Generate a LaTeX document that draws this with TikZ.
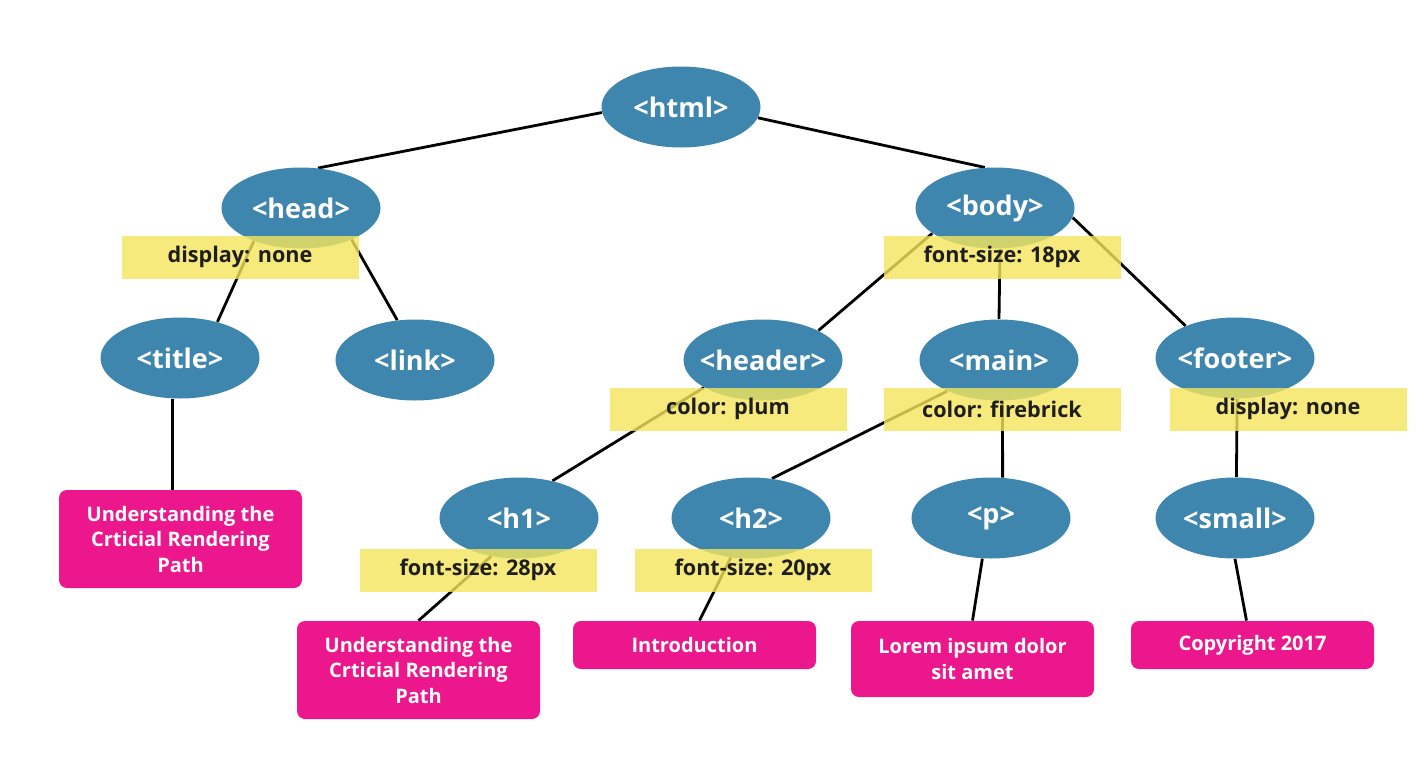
\documentclass[tikz,border=0pt]{standalone}
\usepackage{fontspec}
\setmainfont{Open Sans}
\usetikzlibrary{shapes.geometric}

\pgfdeclarelayer{background}
\pgfsetlayers{background,main}

\definecolor{elemblue}{HTML}{3F86AE}
\definecolor{rulefill}{HTML}{F5E55C}
\definecolor{ruletext}{HTML}{1E1E1E}
\definecolor{textpink}{HTML}{EC178C}

\tikzset{
  elem/.style={ellipse,fill=elemblue,text=white,inner xsep=-8pt,inner ysep=0pt,
    minimum width=79.5pt,minimum height=40.5pt,
    font=\fontsize{13.5}{16}\selectfont\bfseries},
  cssrule/.style={fill=rulefill,fill opacity=0.8,text opacity=1,text=ruletext,
    inner sep=0pt,minimum width=118.5pt,minimum height=21.5pt,
    font=\fontsize{10.8}{13}\selectfont\bfseries},
  textbox/.style={fill=textpink,rounded corners=4pt,text=white,inner sep=0pt,
    minimum width=121.5pt,align=center,
    font=\fontsize{10}{12.75}\selectfont\bfseries},
  branch/.style={line width=1.4pt,black}
}

\begin{document}
\begin{tikzpicture}[x=0.5pt,y=-0.5pt]
  \useasboundingbox (0,0) rectangle (1420,766);

  % element nodes
  \node[elem] (html)   at (681,107) {<html>};
  \node[elem] (head)   at (301,208) {<head>};
  \node[elem] (body)   at (995,208) {<body>};
  \node[elem] (title)  at (180,358) {<title>};
  \node[elem] (link)   at (415,360) {<link>};
  \node[elem] (header) at (763,360) {<header>};
  \node[elem] (main)   at (999,360) {<main>};
  \node[elem] (footer) at (1235,358) {<footer>};
  \node[elem] (h1)     at (519,518) {<h1>};
  \node[elem] (h2)     at (751,518) {<h2>};
  \node[elem] (p)      at (991,518) {<p>};
  \node[elem] (small)  at (1235,518) {<small>};

  % text content
  \node[textbox,minimum height=49pt] (tt1) at (180.5,539) {Understanding the\\Crticial Rendering\\Path};
  \node[textbox,minimum height=49pt] (tt2) at (418.5,670) {Understanding the\\Crticial Rendering\\Path};
  \node[textbox,minimum height=24pt] (tt3) at (694.5,645) {Introduction};
  \node[textbox,minimum height=38pt] (tt4) at (972.5,659) {Lorem ipsum dolor\\sit amet};
  \node[textbox,minimum height=24pt] (tt5) at (1252.5,645) {Copyright 2017};

  \begin{pgfonlayer}{background}
    \draw[branch] (html.184) -- (head.67);
    \draw[branch] (html.352) -- (body.104);
    \draw[branch] (head.215) -- (title.44);
    \draw[branch] (head.328) -- (link.114);
    \draw[branch] (body.202) -- (header.28);
    \draw[branch] (body.277) -- (main.north);
    \draw[branch] (body.353) -- (footer.147);
    \draw[branch] (header.205) -- (h1.48);
    \draw[branch] (main.211) -- (h2.62);
    \draw[branch] (main.275) -- (p.74);
    \draw[branch] (footer.273) -- (small.88);
    \draw[branch] (title.260) -- (title.260 |- tt1.north);
    \draw[branch] (h1.234) -- (tt2.north);
    \draw[branch] (h2.243) -- ([xshift=2.5pt]tt3.north);
    \draw[branch] (p.258) -- (tt4.north);
    \draw[branch] (small.south) -- ([xshift=-3pt]tt5.north);
  \end{pgfonlayer}

  % css rules
  \node[cssrule] (headrule)   at (240,257)  {display: none};
  \node[cssrule] (bodyrule)   at (1002,257) {font-size: 18px};
  \node[cssrule] (headerrule) at (728,409)  {color: plum};
  \node[cssrule] (mainrule)   at (1002,409) {color: firebrick};
  \node[cssrule] (footerrule) at (1288,409) {display: none};
  \node[cssrule] (h1rule)     at (478,570)  {font-size: 28px};
  \node[cssrule] (h2rule)     at (753,570)  {font-size: 20px};
\end{tikzpicture}
\end{document}
